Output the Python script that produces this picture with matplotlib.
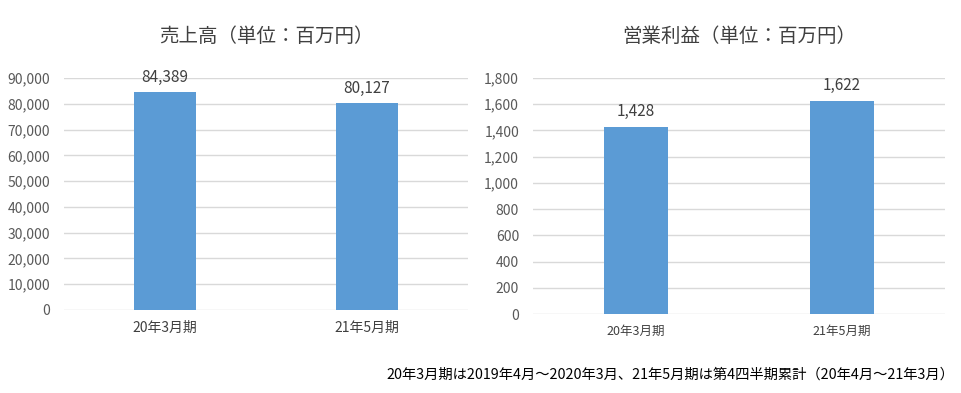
import matplotlib.pyplot as plt
from matplotlib.ticker import FuncFormatter

plt.rcParams['font.family'] = ['Noto Sans CJK JP', 'DejaVu Sans']

periods = ['20年3月期', '21年5月期']
sales = [84389, 80127]
op_profit = [1428, 1622]
sales_ticks = list(range(0, 90001, 10000))
profit_ticks = list(range(0, 1801, 200))

bar_color = '#5B9BD5'
grid_color = '#D9D9D9'
tick_color = '#595959'


def draw(ax, values, ticks, title, xfont):
    x = range(len(values))
    ax.bar(x, values, width=0.31, color=bar_color, zorder=3)
    for i, v in zip(x, values):
        ax.annotate('{:,}'.format(v), (i, v), xytext=(0, 5), textcoords='offset points',
                    ha='center', va='bottom', fontsize=11, color='#404040')
    ax.set_xlim(-0.5, 1.5)
    ax.set_ylim(0, ticks[-1])
    ax.set_yticks(ticks)
    ax.yaxis.set_major_formatter(FuncFormatter(lambda v, p: '{:,}'.format(int(v))))
    ax.set_xticks(list(x))
    ax.set_xticklabels(periods, fontsize=xfont, color='#404040')
    ax.tick_params(axis='y', labelsize=10, colors=tick_color, length=0, pad=10)
    ax.tick_params(axis='x', length=0, pad=8)
    ax.grid(axis='y', color=grid_color, linewidth=1, zorder=0)
    for s in ax.spines.values():
        s.set_visible(False)
    ax.set_title(title, fontsize=14, color='#404040', pad=26)


fig = plt.figure(figsize=(9.61, 3.93), dpi=100)
ax1 = fig.add_axes([0.0666, 0.2112, 0.4204, 0.5903])
ax2 = fig.add_axes([0.5546, 0.2010, 0.4287, 0.6005])
draw(ax1, sales, sales_ticks, '売上高（単位：百万円）', 10)
draw(ax2, op_profit, profit_ticks, '営業利益（単位：百万円）', 9)

fig.text(0.993, 0.046, '20年3月期は2019年4月～2020年3月、21年5月期は第4四半期累計（20年4月～21年3月）',
         ha='right', va='center', fontsize=10.3, color='black')

fig.savefig('out.png', dpi=100)
